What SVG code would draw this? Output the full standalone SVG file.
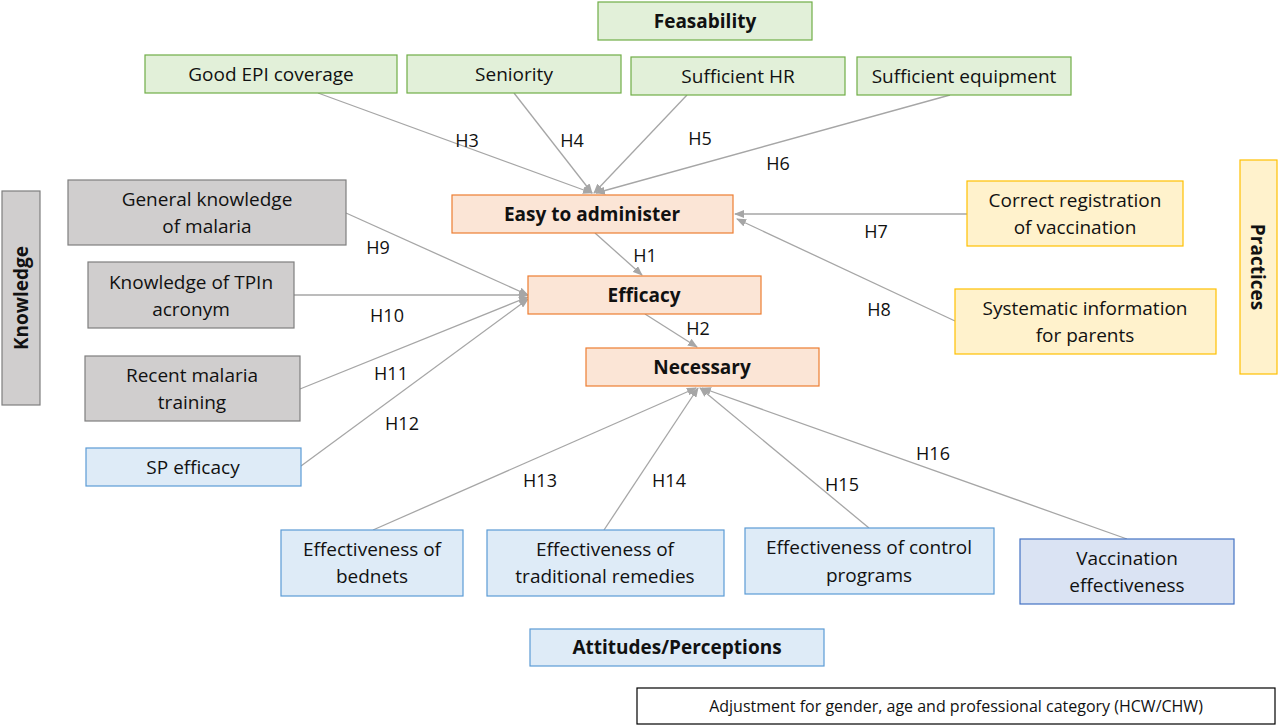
<svg xmlns="http://www.w3.org/2000/svg" width="1280" height="728" viewBox="0 0 1280 728">
<style>
text{font-family:"Open Sans","Liberation Sans",sans-serif;font-size:19px;fill:#111;text-anchor:middle;dominant-baseline:central}
.b{font-weight:bold}
.g rect{fill:#e2f0d9;stroke:#70ad47;stroke-width:1.2}
.o rect{fill:#fbe5d6;stroke:#ed7d31;stroke-width:1.2}
.k rect{fill:#d0cece;stroke:#7f7f7f;stroke-width:1.2}
.y rect{fill:#fff2cc;stroke:#ffc000;stroke-width:1.2}
.l rect{fill:#deebf7;stroke:#5b9bd5;stroke-width:1.2}
.d rect{fill:#dae3f3;stroke:#4472c4;stroke-width:1.2}
#edges line{stroke:#a6a6a6;stroke-width:1.3;marker-end:url(#a)}
.h{font-size:18px}
</style>
<defs><marker id="a" markerWidth="10" markerHeight="8" refX="9" refY="4" orient="auto" markerUnits="userSpaceOnUse"><path d="M0,0 L10,4 L0,8 Z" fill="#a6a6a6"/></marker></defs>
<rect width="1280" height="728" fill="#fff"/>
<g id="edges">
<line x1="318" y1="93" x2="592" y2="193"/>
<line x1="514" y1="93" x2="592" y2="193"/>
<line x1="687" y1="95" x2="594" y2="193"/>
<line x1="950" y1="95" x2="596" y2="193"/>
<line x1="967" y1="214" x2="735" y2="214"/>
<line x1="955" y1="321" x2="737" y2="219"/>
<line x1="595" y1="233" x2="642" y2="275"/>
<line x1="645" y1="314" x2="697" y2="347"/>
<line x1="346" y1="213" x2="528" y2="295"/>
<line x1="294" y1="295" x2="528" y2="295"/>
<line x1="300" y1="389" x2="528" y2="297"/>
<line x1="301" y1="466" x2="528" y2="299"/>
<line x1="373" y1="530" x2="696" y2="388"/>
<line x1="604" y1="530" x2="698" y2="388"/>
<line x1="869" y1="528" x2="700" y2="388"/>
<line x1="1127" y1="539" x2="702" y2="388"/>
<g class="h" stroke="none">
<text x="467" y="140" class="h">H3</text><text x="572" y="140" class="h">H4</text><text x="700" y="138" class="h">H5</text><text x="778" y="163" class="h">H6</text>
<text x="645" y="255" class="h">H1</text><text x="698" y="328" class="h">H2</text><text x="876" y="231" class="h">H7</text><text x="879" y="309" class="h">H8</text>
<text x="378" y="247" class="h">H9</text><text x="387" y="315" class="h">H10</text><text x="391" y="373" class="h">H11</text><text x="402" y="423" class="h">H12</text>
<text x="540" y="480" class="h">H13</text><text x="669" y="480" class="h">H14</text><text x="842" y="484" class="h">H15</text><text x="933" y="453" class="h">H16</text>
</g>
</g>
<g id="feasability" class="g"><rect x="598" y="2" width="214" height="38"/><text x="705" y="21" class="b">Feasability</text></g>
<g id="epi" class="g"><rect x="145" y="55" width="252" height="38"/><text x="271" y="74">Good EPI coverage</text></g>
<g id="seniority" class="g"><rect x="407" y="55" width="214" height="38"/><text x="514" y="74">Seniority</text></g>
<g id="hr" class="g"><rect x="631" y="57" width="214" height="38"/><text x="738" y="76">Sufficient HR</text></g>
<g id="equip" class="g"><rect x="857" y="57" width="214" height="38"/><text x="964" y="76">Sufficient equipment</text></g>
<g id="easy" class="o"><rect x="452" y="195" width="281" height="38"/><text x="592" y="214" class="b">Easy to administer</text></g>
<g id="efficacy" class="o"><rect x="528" y="276" width="233" height="38"/><text x="644" y="295" class="b">Efficacy</text></g>
<g id="necessary" class="o"><rect x="586" y="348" width="233" height="38"/><text x="702" y="367" class="b">Necessary</text></g>
<g id="knowledge" class="k"><rect x="2" y="191" width="38" height="214"/><text transform="translate(21,298) rotate(-90)" class="b">Knowledge</text></g>
<g id="general" class="k"><rect x="68" y="180" width="278" height="65"/><text x="207" y="199">General knowledge</text><text x="207" y="226">of malaria</text></g>
<g id="tpin" class="k"><rect x="88" y="262" width="206" height="66"/><text x="191" y="282">Knowledge of TPIn</text><text x="191" y="309">acronym</text></g>
<g id="training" class="k"><rect x="85" y="356" width="215" height="65"/><text x="192" y="375">Recent malaria</text><text x="192" y="402">training</text></g>
<g id="sp" class="l"><rect x="86" y="448" width="215" height="38"/><text x="193" y="467">SP efficacy</text></g>
<g id="practices" class="y"><rect x="1240" y="160" width="37" height="214"/><text transform="translate(1258,267) rotate(90)" class="b">Practices</text></g>
<g id="registration" class="y"><rect x="967" y="181" width="216" height="65"/><text x="1075" y="200">Correct registration</text><text x="1075" y="227">of vaccination</text></g>
<g id="information" class="y"><rect x="955" y="289" width="261" height="65"/><text x="1085" y="308">Systematic information</text><text x="1085" y="335">for parents</text></g>
<g id="bednets" class="l"><rect x="281" y="530" width="182" height="66"/><text x="372" y="549">Effectiveness of</text><text x="372" y="576">bednets</text></g>
<g id="traditional" class="l"><rect x="487" y="530" width="237" height="66"/><text x="605" y="549">Effectiveness of</text><text x="605" y="576">traditional remedies</text></g>
<g id="control" class="l"><rect x="745" y="528" width="249" height="66"/><text x="869" y="547">Effectiveness of control</text><text x="869" y="575">programs</text></g>
<g id="vaccination" class="d"><rect x="1020" y="539" width="214" height="65"/><text x="1127" y="558">Vaccination</text><text x="1127" y="585">effectiveness</text></g>
<g id="attitudes" class="l"><rect x="530" y="629" width="294" height="37"/><text x="677" y="647" class="b">Attitudes/Perceptions</text></g>
<g id="adjustment"><rect x="637" y="688" width="638" height="36" fill="#fff" stroke="#000" stroke-width="1.2"/><text x="956" y="706" style="font-size:16px">Adjustment for gender, age and professional category (HCW/CHW)</text></g>
</svg>
